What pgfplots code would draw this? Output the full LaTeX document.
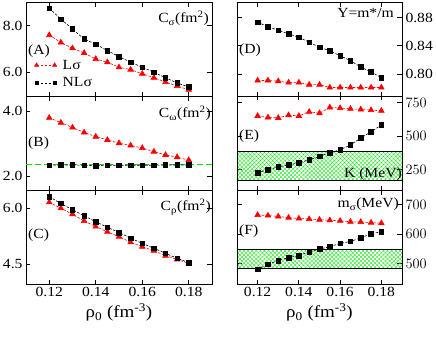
\documentclass[border=0pt]{standalone}
\usepackage{fontspec}
\setmainfont[FakeStretch=1.12]{Liberation Serif}
\usepackage{pgfplots}
\pgfplotsset{compat=1.18}
\usetikzlibrary{patterns.meta}

\definecolor{hatchgreen}{RGB}{20,230,20}
\definecolor{lgreen}{RGB}{0,225,0}
\newcommand{\tsz}{\fontsize{14}{14}\selectfont}

\pgfplotsset{
  panel/.style={
    scale only axis, height=94bp,
    xmin=0.11, xmax=0.19,
    xtick={0.12,0.14,0.16,0.18}, xticklabels={},
    tick align=inside, major tick length=4.5bp,
    axis line style={line width=0.8bp},
    every tick/.style={black, line width=0.8bp},
    tick label style={font=\tsz},
  },
  leftcol/.style={panel, width=186bp, yticklabel pos=left},
  rightcol/.style={panel, width=165bp, yticklabel pos=right},
  bottomrow/.style={xticklabels={0.12,0.14,0.16,0.18},
    xlabel={ρ\textsubscript{0} (fm\textsuperscript{-3})},
    xlabel style={font=\fontsize{17}{17}\selectfont}},
  lsig/.style={red, line width=0.6bp, dash pattern=on 2.5bp off 1.5bp,
    mark=triangle*, mark size=3.2bp, mark options={solid}},
  nlsig/.style={black, line width=0.6bp, dash pattern=on 2.5bp off 1.5bp,
    mark=square*, mark size=2.3bp, mark options={solid}},
  band/.style={draw=black, line width=0.6bp, forget plot,
    pattern={Hatch[angle=45,distance=2.9bp,line width=0.35bp]}, pattern color=hatchgreen},
}

\begin{document}
\begin{tikzpicture}
\useasboundingbox (0,0) rectangle (436bp,-339bp);

% (A) C_sigma
\begin{axis}[leftcol, at={(26bp,-96bp)}, anchor=south west,
  ymin=4.97, ymax=9.03, ytick={6,8}, yticklabels={6.0,8.0},
  legend cell align=left,
  legend image code/.code={\draw[#1] plot coordinates {(0bp,0bp) (18bp,0bp)};},
  legend style={draw=none, fill=none, at={(0.045,0.06)}, anchor=south west,
    font=\tsz, row sep=3bp, inner sep=0bp,
    /tikz/every odd column/.style={column sep=4bp}}]
\addplot[lsig, legend image post style={mark size=2.4bp}] coordinates {(0.12,7.60) (0.125,7.28) (0.13,7.03) (0.135,6.83) (0.14,6.57) (0.145,6.43) (0.15,6.21) (0.155,6.11) (0.16,5.93) (0.165,5.76) (0.17,5.57) (0.175,5.40) (0.18,5.24)};
\addlegendentry{Lσ}
\addplot[nlsig, legend image post style={mark size=1.8bp}] coordinates {(0.12,8.76) (0.125,8.29) (0.13,7.86) (0.135,7.43) (0.14,7.21) (0.145,6.93) (0.15,6.67) (0.155,6.43) (0.16,6.21) (0.165,6.00) (0.17,5.76) (0.175,5.53) (0.18,5.36)};
\addlegendentry{NLσ}
\node[anchor=west, font=\tsz, inner sep=2bp] at (rel axis cs:0,0.48) {(A)};
\node[anchor=north east, font=\tsz, inner sep=1bp] at ([yshift=-8bp,xshift=-2bp]rel axis cs:1,1) {C\textsubscript{σ}(fm\textsuperscript{2})};
\end{axis}

% (B) C_omega
\begin{axis}[leftcol, at={(26bp,-190bp)}, anchor=south west,
  ymin=1.57, ymax=4.46, ytick={2,4}, yticklabels={2.0,4.0}]
\addplot[lgreen, line width=1.1bp, dash pattern=on 6bp off 3bp, forget plot] coordinates {(0.11,2.35) (0.19,2.35)};
\addplot[lsig] coordinates {(0.12,3.79) (0.125,3.64) (0.13,3.49) (0.135,3.34) (0.14,3.21) (0.145,3.11) (0.15,3.01) (0.155,2.94) (0.16,2.86) (0.165,2.75) (0.17,2.65) (0.175,2.58) (0.18,2.49)};
\addplot[nlsig] coordinates {(0.12,2.33) (0.125,2.34) (0.13,2.34) (0.135,2.33) (0.14,2.32) (0.145,2.33) (0.15,2.33) (0.155,2.33) (0.16,2.33) (0.165,2.33) (0.17,2.34) (0.175,2.34) (0.18,2.34)};
\node[anchor=west, font=\tsz, inner sep=2bp] at (rel axis cs:0,0.5) {(B)};
\node[anchor=north east, font=\tsz, inner sep=1bp] at ([yshift=-9bp,xshift=0bp]rel axis cs:1,1) {C\textsubscript{ω}(fm\textsuperscript{2})};
\end{axis}

% (C) C_rho
\begin{axis}[leftcol, bottomrow, at={(26bp,-284bp)}, anchor=south west,
  ymin=3.97, ymax=6.49, ytick={4.5,6}, yticklabels={4.5,6.0}]
\addplot[lsig] coordinates {(0.12,6.16) (0.125,6.00) (0.13,5.84) (0.135,5.66) (0.14,5.51) (0.145,5.37) (0.15,5.24) (0.155,5.09) (0.16,4.97) (0.165,4.86) (0.17,4.73) (0.175,4.63) (0.18,4.52)};
\addplot[nlsig] coordinates {(0.12,6.31) (0.125,6.13) (0.13,5.96) (0.135,5.80) (0.14,5.64) (0.145,5.49) (0.15,5.35) (0.155,5.20) (0.16,5.06) (0.165,4.93) (0.17,4.79) (0.175,4.66) (0.18,4.54)};
\node[anchor=west, font=\tsz, inner sep=2bp] at (rel axis cs:0,0.52) {(C)};
\node[anchor=north east, font=\tsz, inner sep=1bp] at ([yshift=-8bp,xshift=0bp]rel axis cs:1,1) {C\textsubscript{ρ}(fm\textsuperscript{2})};
\end{axis}

% (D) Y = m*/m
\begin{axis}[rightcol, at={(237bp,-96bp)}, anchor=south west,
  ymin=0.769, ymax=0.902, ytick={0.80,0.84,0.88}, yticklabels={0.80,0.84,0.88}]
\addplot[lsig] coordinates {(0.12,0.791) (0.125,0.791) (0.13,0.790) (0.135,0.788) (0.14,0.788) (0.145,0.785) (0.15,0.785) (0.155,0.781) (0.16,0.781) (0.165,0.781) (0.17,0.781) (0.175,0.781) (0.18,0.781)};
\addplot[nlsig] coordinates {(0.12,0.8735) (0.125,0.867) (0.13,0.862) (0.135,0.857) (0.14,0.852) (0.145,0.845) (0.15,0.838) (0.155,0.833) (0.16,0.826) (0.165,0.819) (0.17,0.810) (0.175,0.803) (0.18,0.795)};
\node[anchor=west, font=\tsz, inner sep=2bp] at (rel axis cs:0,0.49) {(D)};
\node[anchor=north east, font=\tsz, inner sep=1bp] at ([yshift=-5bp,xshift=-7bp]rel axis cs:1,1) {Y=m*/m};
\end{axis}

% (E) K
\begin{axis}[rightcol, at={(237bp,-190bp)}, anchor=south west,
  ymin=100, ymax=800, ytick={250,500,750}]
\addplot[band] coordinates {(0.11,170) (0.19,170) (0.19,385) (0.11,385)} -- cycle;
\addplot[lsig] coordinates {(0.12,652) (0.125,640) (0.13,637) (0.135,657) (0.14,652) (0.145,682) (0.15,672) (0.155,715) (0.16,710) (0.165,705) (0.17,700) (0.175,695) (0.18,690)};
\addplot[nlsig] coordinates {(0.12,230) (0.125,250) (0.13,272) (0.135,287) (0.14,302) (0.145,325) (0.15,350) (0.155,377) (0.16,400) (0.165,435) (0.17,487) (0.175,533) (0.18,585)};
\node[anchor=west, font=\tsz, inner sep=2bp] at (rel axis cs:0,0.57) {(E)};
\node[anchor=base east, font=\tsz, inner sep=0bp] at ([yshift=13bp,xshift=0bp]rel axis cs:1,0) {K (MeV)};
\end{axis}

% (F) m_sigma
\begin{axis}[rightcol, bottomrow, at={(237bp,-284bp)}, anchor=south west,
  ymin=430, ymax=750, ytick={500,600,700}]
\addplot[band] coordinates {(0.11,485) (0.19,485) (0.19,548) (0.11,548)} -- cycle;
\addplot[lsig] coordinates {(0.12,665) (0.125,663) (0.13,660) (0.135,656) (0.14,653) (0.145,651) (0.15,649) (0.155,647) (0.16,645) (0.165,642) (0.17,641) (0.175,639) (0.18,637)};
\addplot[nlsig] coordinates {(0.12,480) (0.125,497) (0.13,510) (0.135,520) (0.14,527) (0.145,539) (0.15,549) (0.155,557) (0.16,568) (0.165,575) (0.17,587) (0.175,601) (0.18,608)};
\node[anchor=west, font=\tsz, inner sep=2bp] at (rel axis cs:0,0.56) {(F)};
\node[anchor=north east, font=\tsz, inner sep=1bp] at ([yshift=-7bp,xshift=-2bp]rel axis cs:1,1) {m\textsubscript{σ}(MeV)};
\end{axis}
\end{tikzpicture}
\end{document}
